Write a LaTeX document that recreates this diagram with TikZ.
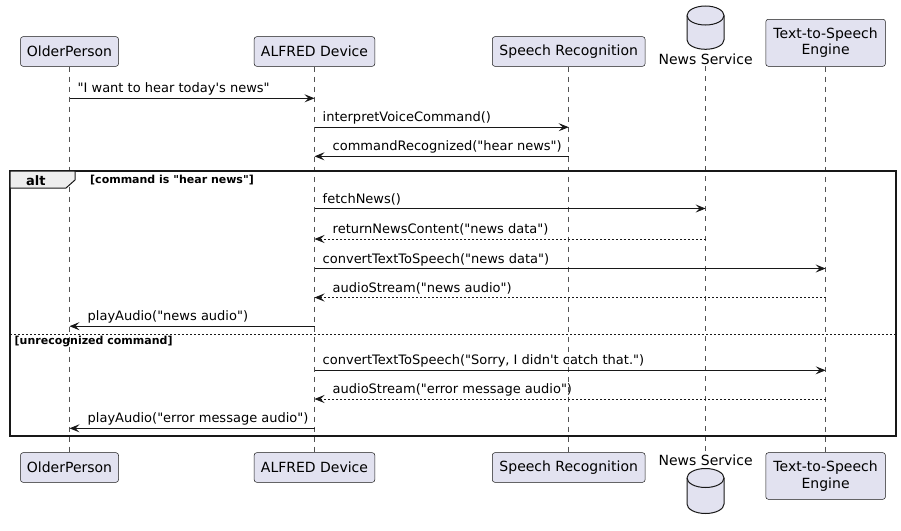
\documentclass[tikz,border=0pt]{standalone}
\usepackage{fontspec}
\setmainfont{DejaVu Sans}[Ligatures=TeXOff]
\usetikzlibrary{arrows.meta}
\definecolor{partfill}{HTML}{E2E2F0}
\definecolor{partline}{HTML}{181818}
\definecolor{tabfill}{HTML}{EEEEEE}
\tikzset{
  part/.style={draw=partline, line width=0.5pt, fill=partfill, rounded corners=2.5pt,
    font=\fontsize{14}{16.5}\selectfont, align=center, inner sep=0pt},
  life/.style={draw=partline!75, line width=0.5pt, dash pattern=on 5pt off 5pt},
  msg/.style={-{Stealth[length=10pt,width=8pt,inset=4pt]}, line width=0.8pt, draw=partline},
  reply/.style={msg, dash pattern=on 2pt off 2pt},
  lbl/.style={font=\fontsize{13}{15}\selectfont, anchor=base west, inner sep=0pt},
  dbl/.style={font=\fontsize{14}{16.5}\selectfont, inner sep=0pt},
  db/.style={draw=partline, line width=1pt, fill=partfill},
  guard/.style={font=\bfseries\fontsize{11}{13}\selectfont, anchor=base west, inner sep=0pt},
}
\begin{document}
\begin{tikzpicture}[x=1pt,y=-1pt]
\useasboundingbox (0,0) rectangle (901,530);

% participants top
\node[part, minimum width=98pt, minimum height=29.6pt] (opT) at (69.5,51.5) {OlderPerson};
\node[part, minimum width=120.6pt, minimum height=29.6pt] (adT) at (314.5,51.5) {ALFRED Device};
\node[part, minimum width=152.7pt, minimum height=29.6pt] (srT) at (568.7,51.5) {Speech Recognition};
\node[part, minimum width=119.6pt, minimum height=47pt] (ttT) at (825.6,42.8) {Text-to-Speech\\Engine};
\draw[db] (687,15.5) -- (687,39.8) arc[start angle=180, end angle=360, x radius=18.5pt, y radius=9.5pt]
  -- (724,15.5) arc[start angle=0, end angle=180, x radius=18.5pt, y radius=9.5pt] -- cycle;
\draw[partline, line width=1pt] (687,15.5) arc[start angle=180, end angle=360, x radius=18.5pt, y radius=9.5pt];
\node[dbl, anchor=base] (nsT) at (705.6,64) {News Service};

% participants bottom
\node[part, minimum width=98pt, minimum height=29.6pt] (opB) at (69.5,467.5) {OlderPerson};
\node[part, minimum width=120.6pt, minimum height=29.6pt] (adB) at (314.5,467.5) {ALFRED Device};
\node[part, minimum width=152.7pt, minimum height=29.6pt] (srB) at (568.7,467.5) {Speech Recognition};
\node[part, minimum width=119.6pt, minimum height=46.6pt] (ttB) at (825.6,476) {Text-to-Speech\\Engine};
\node[dbl, anchor=base] (nsB) at (705.6,465.5) {News Service};
\draw[db] (687,478) -- (687,504) arc[start angle=180, end angle=360, x radius=18.5pt, y radius=9.5pt]
  -- (724,478) arc[start angle=0, end angle=180, x radius=18.5pt, y radius=9.5pt] -- cycle;
\draw[partline, line width=1pt] (687,478) arc[start angle=180, end angle=360, x radius=18.5pt, y radius=9.5pt];

% lifelines
\draw[life] (opT.south) -- (opB.north);
\draw[life] (adT.south) -- (adB.north);
\draw[life] (srT.south) -- (srB.north);
\draw[life] ([yshift=-2pt]nsT.south) -- ([yshift=2pt]nsB.north);
\draw[life] (ttT.south) -- (ttB.north);

% alt frame
\coordinate (fTL) at (10,171);
\coordinate (fBR) at (896,436);
\draw[line width=1.5pt, draw=partline] (fTL) rectangle (fBR);
\draw[line width=1pt, draw=partline, fill=tabfill] (fTL) -- (75,171) -- (75,180) -- (66,188) -- (10,188) -- cycle;
\node[font=\bfseries\fontsize{13}{15}\selectfont, anchor=base west, inner sep=0pt] (altL) at (26,185) {alt};
\node[guard] (g1) at (90,183.5) {[command is "hear news"]};
\coordinate (sepL) at (10,334.7);
\coordinate (sepR) at (896,334.7);
\draw[partline, line width=0.6pt, dash pattern=on 2pt off 2pt] (sepL) -- (sepR);
\node[guard] (g2) at (14.5,344.5) {[unrecognized command]};

% message rows
\coordinate (y1) at (0,98.3);
\coordinate (y2) at (0,127.2);
\coordinate (y3) at (0,156.3);
\coordinate (y4) at (0,208.5);
\coordinate (y5) at (0,239);
\coordinate (y6) at (0,268.5);
\coordinate (y7) at (0,297.5);
\coordinate (y8) at (0,326.2);
\coordinate (y9) at (0,370.3);
\coordinate (y10) at (0,399);
\coordinate (y11) at (0,428.3);

\draw[msg] (opT |- y1) -- (adT |- y1);
\node[lbl] (l1) at ([xshift=8pt,yshift=5.5pt]opT |- y1) {"I want to hear today's news"};
\draw[msg] (adT |- y2) -- (srT |- y2);
\node[lbl] (l2) at ([xshift=8pt,yshift=5.5pt]adT |- y2) {interpretVoiceCommand()};
\draw[msg] (srT |- y3) -- (adT |- y3);
\node[lbl] (l3) at ([xshift=18pt,yshift=5.5pt]adT |- y3) {commandRecognized("hear news")};
\draw[msg] (adT |- y4) -- (nsT |- y4);
\node[lbl] (l4) at ([xshift=8pt,yshift=5.5pt]adT |- y4) {fetchNews()};
\draw[reply] (nsT |- y5) -- (adT |- y5);
\node[lbl] (l5) at ([xshift=18pt,yshift=5.5pt]adT |- y5) {returnNewsContent("news data")};
\draw[msg] (adT |- y6) -- (ttT |- y6);
\node[lbl] (l6) at ([xshift=8pt,yshift=5.5pt]adT |- y6) {convertTextToSpeech("news data")};
\draw[reply] (ttT |- y7) -- (adT |- y7);
\node[lbl] (l7) at ([xshift=18pt,yshift=5.5pt]adT |- y7) {audioStream("news audio")};
\draw[msg] (adT |- y8) -- (opT |- y8);
\node[lbl] (l8) at ([xshift=18pt,yshift=5.5pt]opT |- y8) {playAudio("news audio")};
\draw[msg] (adT |- y9) -- (ttT |- y9);
\node[lbl] (l9) at ([xshift=8pt,yshift=5.5pt]adT |- y9) {convertTextToSpeech("Sorry, I didn't catch that.")};
\draw[reply] (ttT |- y10) -- (adT |- y10);
\node[lbl] (l10) at ([xshift=18pt,yshift=5.5pt]adT |- y10) {audioStream("error message audio")};
\draw[msg] (adT |- y11) -- (opT |- y11);
\node[lbl] (l11) at ([xshift=18pt,yshift=5.5pt]opT |- y11) {playAudio("error message audio")};
\end{tikzpicture}
\end{document}
